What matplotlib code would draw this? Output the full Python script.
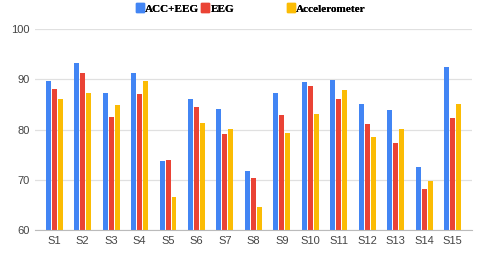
import matplotlib
matplotlib.use("Agg")
import matplotlib.pyplot as plt
from matplotlib.patches import Patch
import numpy as np

subjects = ["S1", "S2", "S3", "S4", "S5", "S6", "S7", "S8", "S9", "S10", "S11", "S12", "S13", "S14", "S15"]
acc_eeg = [89.6, 93.3, 87.3, 91.3, 73.7, 86.1, 84.0, 71.7, 87.3, 89.5, 89.9, 85.1, 83.9, 72.6, 92.5]
eeg = [88.1, 91.2, 82.5, 87.0, 73.9, 84.5, 79.2, 70.3, 82.9, 88.7, 86.1, 81.1, 77.4, 68.1, 82.3]
accel = [86.1, 87.3, 84.8, 89.6, 66.6, 81.3, 80.1, 64.6, 79.3, 83.1, 87.9, 78.5, 80.2, 69.7, 85.1]
series_names = ["ACC+EEG", "EEG", "Accelerometer"]
yticks = [60, 70, 80, 90, 100]

colors = ["#4285F4", "#EA4335", "#FBBC04"]

fig = plt.figure(figsize=(4.8, 2.57), dpi=100)
ax = fig.add_axes([0.073, 0.105, 0.91, 0.782])

x = np.arange(len(subjects))
w = 0.175
off = 0.21
for k, (vals, c, name) in enumerate(zip([acc_eeg, eeg, accel], colors, series_names)):
    ax.bar(x + (k - 1) * off, np.array(vals) - 60, bottom=60, width=w, color=c, label=name, zorder=3)

ax.set_ylim(60, 100)
ax.set_xlim(-0.67, 14.67)
ax.set_yticks(yticks)
ax.set_xticks(x)
ax.set_xticklabels(subjects)
ax.grid(axis="y", color="#e0e0e0", linewidth=0.9, zorder=0)
for s in ["top", "right", "left"]:
    ax.spines[s].set_visible(False)
ax.spines["bottom"].set_color("#bbbbbb")
ax.spines["bottom"].set_zorder(4)
ax.tick_params(axis="both", length=0, labelsize=8, labelcolor="#444444")
for lab in ax.get_xticklabels() + ax.get_yticklabels():
    lab.set_family("Liberation Sans")
ax.tick_params(axis="y", pad=4)
ax.tick_params(axis="x", pad=4)

leg_x = [135.5 / 480, 201 / 480, 286.5 / 480]
for name, c, lx in zip(series_names, colors, leg_x):
    lg = fig.legend(handles=[Patch(color=c)], labels=[name], loc="upper left",
                    bbox_to_anchor=(lx, 1 - 3.5 / 257), frameon=False,
                    prop={"family": "Liberation Serif", "weight": "bold", "size": 8.1},
                    handlelength=0.75, handleheight=0.75, handletextpad=0.1,
                    borderpad=0, borderaxespad=0)
    fig.add_artist(lg)

fig.savefig("out.png", dpi=100)
